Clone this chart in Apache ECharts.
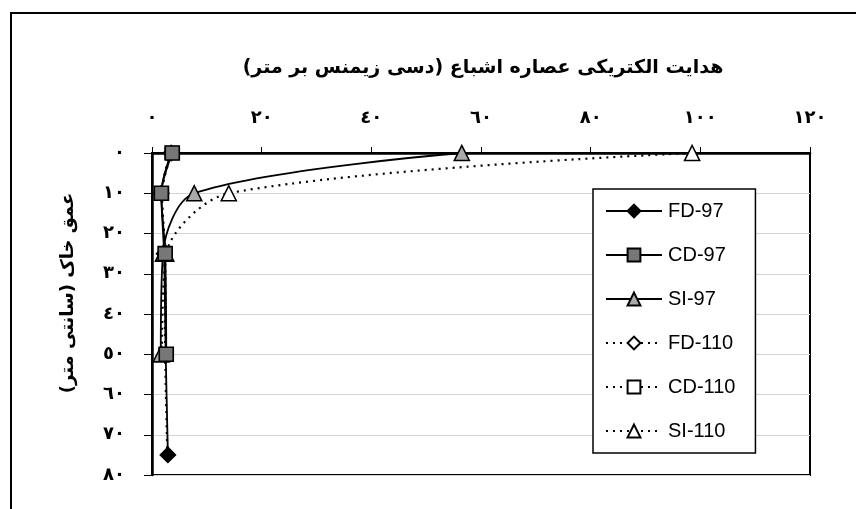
<!DOCTYPE html>
<html>
<head>
<meta charset="utf-8">
<script src="https://cdn.jsdelivr.net/npm/echarts@6/dist/echarts.min.js"></script>
<style>html,body{margin:0;padding:0;background:#fff}#c{width:856px;height:509px}</style>
</head>
<body>
<div id="c"></div>
<script>
// ---- data ----
const depths = [0, 10, 25, 50, 75];
const fd97  = [3.5, 1.7, 2.2, 2.5, 2.9];
const cd97  = [3.7, 1.7, 2.4, 2.6];
const si97  = [56.5, 7.7, 2.0, 1.6];
const fd110 = [3.3, 1.8, 2.3, 2.4, 2.8];
const cd110 = [3.6, 1.8, 2.4, 2.5];
const si110 = [98.5, 14.0, 2.6, 1.8];
const xTickLabels = ['٠', '٢٠', '٤٠', '٦٠', '٨٠', '١٠٠', '١٢٠'];
const yTickLabels = ['٠', '١٠', '٢٠', '٣٠', '٤٠', '٥٠', '٦٠', '٧٠', '٨٠'];
const titleText = 'هدایت الکتریکی عصاره اشباع (دسی زیمنس بر متر)';
const yName = 'عمق خاک (سانتی متر)';
const names = ['FD-97', 'CD-97', 'SI-97', 'FD-110', 'CD-110', 'SI-110'];

function pairs(vals) { return vals.map((v, i) => [v, depths[i]]); }

const chart = echarts.init(document.getElementById('c'));
const arFont = 'DejaVu Sans';
const solid = { color: '#000', width: 1.8, type: 'solid' };
const dotted = { color: '#000', width: 2.2, type: [2, 5] };

function ser(name, vals, symbol, fill, line, size, z) {
  return {
    name, type: 'line', data: pairs(vals), smooth: 0.3,
    symbol, symbolSize: size, showSymbol: true, z: z,
    lineStyle: line,
    itemStyle: { color: fill, borderColor: '#000', borderWidth: 1.6 },
    emphasis: { disabled: true }
  };
}

chart.setOption({
  animation: false,
  backgroundColor: '#fff',
  title: {
    text: titleText, left: 478, top: 54, textAlign: 'center',
    textStyle: { fontFamily: arFont, fontWeight: 'bold', fontSize: 19, color: '#000' }
  },
  graphic: [
    { type: 'polyline', shape: { points: [[11, 520], [11, 13], [870, 13]] },
      style: { stroke: '#000', lineWidth: 2, fill: null } },
    { type: 'text', x: 68, y: 293, rotation: Math.PI / 2,
      style: { text: yName, fontFamily: arFont, fontWeight: 'bold', fontSize: 18, fill: '#000',
               align: 'center', verticalAlign: 'middle' } }
  ],
  grid: { left: 152, top: 153, width: 658, height: 322, show: true, borderColor: '#000', borderWidth: 2, backgroundColor: 'transparent' },
  xAxis: {
    type: 'value', position: 'top', min: 0, max: 120, interval: 20,
    axisLine: { show: true, lineStyle: { color: '#000', width: 2.5 } },
    axisTick: { show: true, inside: false, length: 6, lineStyle: { color: '#000', width: 1 } },
    splitLine: { show: false },
    axisLabel: { margin: 26, color: '#000', fontFamily: arFont, fontWeight: 'bold', fontSize: 18,
      formatter: v => xTickLabels[Math.round(v / 20)] }
  },
  yAxis: {
    type: 'value', inverse: true, min: 0, max: 80, interval: 10,
    axisLine: { show: true, lineStyle: { color: '#000', width: 2.5 } },
    axisTick: { show: true, inside: false, length: 8, lineStyle: { color: '#000', width: 1 } },
    splitLine: { show: true, lineStyle: { color: '#d4d4d4', width: 1 } },
    axisLabel: { margin: 27, color: '#000', fontFamily: arFont, fontWeight: 'bold', fontSize: 18,
      formatter: v => yTickLabels[Math.round(v / 10)] }
  },
  legend: {
    orient: 'vertical', left: 593, top: 189, data: names,
    backgroundColor: '#fff', borderColor: '#000', borderWidth: 1.5,
    padding: [12, 20, 12, 12], itemGap: 24, itemWidth: 56, itemHeight: 16,
    textStyle: { fontFamily: 'Liberation Sans', fontSize: 20, color: '#000', padding: [0, 0, 0, 1] }
  },
  series: [
    ser(names[0], fd97, 'diamond', '#000', solid, 15, 3),
    ser(names[1], cd97, 'rect', '#777', solid, 14, 5),
    ser(names[2], si97, 'triangle', '#aaa', solid, 15, 4),
    ser(names[3], fd110, 'diamond', '#fff', dotted, 13, 2),
    ser(names[4], cd110, 'rect', '#fff', dotted, 13, 2),
    ser(names[5], si110, 'triangle', '#fff', dotted, 15, 2)
  ]
});
</script>
</body>
</html>
